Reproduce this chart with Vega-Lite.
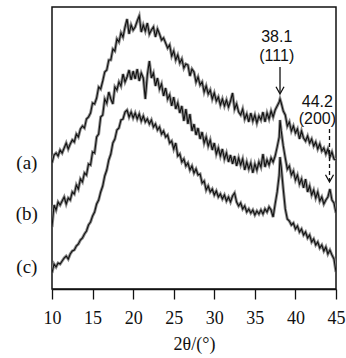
{
  "$schema": "https://vega.github.io/schema/vega-lite/v6.json",
  "width": 284,
  "height": 282,
  "autosize": {"type": "none"},
  "padding": {"left": 52, "top": 7, "right": 10, "bottom": 69},
  "background": "white",
  "config": {
    "font": "Liberation Serif",
    "view": {"stroke": "#111", "strokeWidth": 1.5},
    "axis": {"labelFont": "Liberation Serif", "titleFont": "Liberation Serif"}
  },
  "datasets": {
    "xrd": [
      {"t":10,"a":126,"b":62,"c":16},{"t":10.25,"a":134,"b":84,"c":25},{"t":10.5,"a":136,"b":79,"c":22},{"t":10.75,"a":133,"b":87,"c":26},
      {"t":11,"a":139,"b":84,"c":25},{"t":11.25,"a":136,"b":88,"c":28},{"t":11.5,"a":141,"b":92,"c":31},{"t":11.75,"a":146,"b":85,"c":33},
      {"t":12,"a":140,"b":91,"c":30},{"t":12.25,"a":145,"b":89,"c":35},{"t":12.5,"a":149,"b":97,"c":38},{"t":12.75,"a":147,"b":95,"c":39},
      {"t":13,"a":155,"b":104,"c":43},{"t":13.25,"a":152,"b":100,"c":45},{"t":13.5,"a":160,"b":110,"c":49},{"t":13.75,"a":163,"b":107,"c":51},
      {"t":14,"a":161,"b":116,"c":55},{"t":14.25,"a":170,"b":114,"c":58},{"t":14.5,"a":172,"b":125,"c":64},{"t":14.75,"a":176,"b":124,"c":67},
      {"t":15,"a":186,"b":137,"c":73},{"t":15.25,"a":185,"b":136,"c":77},{"t":15.5,"a":191,"b":152,"c":85},{"t":15.75,"a":202,"b":155,"c":89},
      {"t":16,"a":200,"b":172,"c":97},{"t":16.25,"a":208,"b":174,"c":103},{"t":16.5,"a":217,"b":190,"c":113},{"t":16.75,"a":219,"b":186,"c":119},
      {"t":17,"a":229,"b":197,"c":129},{"t":17.25,"a":229,"b":190,"c":135},{"t":17.5,"a":240,"b":185,"c":146},{"t":17.75,"a":238,"b":202,"c":150},
      {"t":18,"a":250,"b":199,"c":159},{"t":18.25,"a":247,"b":207,"c":161},{"t":18.5,"a":256,"b":203,"c":169},{"t":18.75,"a":252,"b":215,"c":170},
      {"t":19,"a":262,"b":207,"c":177},{"t":19.25,"a":270,"b":212,"c":179},{"t":19.5,"a":255,"b":219,"c":172},{"t":19.75,"a":264,"b":209,"c":177},
      {"t":20,"a":259,"b":218,"c":171},{"t":20.25,"a":262,"b":210,"c":176},{"t":20.5,"a":268,"b":220,"c":170},{"t":20.75,"a":273,"b":208,"c":175},
      {"t":21,"a":257,"b":216,"c":168},{"t":21.25,"a":264,"b":211,"c":173},{"t":21.5,"a":258,"b":190,"c":167},{"t":21.75,"a":266,"b":214,"c":170},
      {"t":22,"a":255,"b":228,"c":165},{"t":22.25,"a":259,"b":211,"c":169},{"t":22.5,"a":262,"b":216,"c":162},{"t":22.75,"a":252,"b":203,"c":165},
      {"t":23,"a":260,"b":211,"c":159},{"t":23.25,"a":255,"b":200,"c":162},{"t":23.5,"a":249,"b":205,"c":155},{"t":23.75,"a":251,"b":193,"c":158},
      {"t":24,"a":246,"b":201,"c":152},{"t":24.25,"a":241,"b":190,"c":154},{"t":24.5,"a":244,"b":194,"c":146},{"t":24.75,"a":233,"b":183,"c":148},
      {"t":25,"a":238,"b":192,"c":140},{"t":25.25,"a":229,"b":180,"c":146},{"t":25.5,"a":234,"b":186,"c":133},{"t":25.75,"a":226,"b":176,"c":135},
      {"t":26,"a":230,"b":183,"c":127},{"t":26.25,"a":221,"b":168,"c":130},{"t":26.5,"a":225,"b":180,"c":123},{"t":26.75,"a":224,"b":165,"c":126},
      {"t":27,"a":213,"b":175,"c":119},{"t":27.25,"a":220,"b":158,"c":123},{"t":27.5,"a":217,"b":165,"c":116},{"t":27.75,"a":207,"b":154,"c":120},
      {"t":28,"a":212,"b":161,"c":114},{"t":28.25,"a":204,"b":150,"c":115},{"t":28.5,"a":207,"b":157,"c":106},{"t":28.75,"a":197,"b":146,"c":108},
      {"t":29,"a":203,"b":152,"c":99},{"t":29.25,"a":195,"b":143,"c":103},{"t":29.5,"a":199,"b":149,"c":97},{"t":29.75,"a":190,"b":139,"c":100},
      {"t":30,"a":196,"b":146,"c":94},{"t":30.25,"a":188,"b":135,"c":98},{"t":30.5,"a":192,"b":141,"c":92},{"t":30.75,"a":184,"b":133,"c":95},
      {"t":31,"a":190,"b":140,"c":90},{"t":31.25,"a":183,"b":130,"c":94},{"t":31.5,"a":189,"b":136,"c":88},{"t":31.75,"a":182,"b":127,"c":92},
      {"t":32,"a":188,"b":134,"c":87},{"t":32.25,"a":196,"b":125,"c":93},{"t":32.5,"a":180,"b":133,"c":96},{"t":32.75,"a":185,"b":123,"c":87},
      {"t":33,"a":177,"b":131,"c":83},{"t":33.25,"a":174,"b":124,"c":86},{"t":33.5,"a":180,"b":130,"c":80},{"t":33.75,"a":170,"b":119,"c":83},
      {"t":34,"a":175,"b":127,"c":77},{"t":34.25,"a":167,"b":120,"c":80},{"t":34.5,"a":176,"b":126,"c":76},{"t":34.75,"a":168,"b":116,"c":79},
      {"t":35,"a":174,"b":125,"c":74},{"t":35.25,"a":166,"b":119,"c":78},{"t":35.5,"a":173,"b":127,"c":75},{"t":35.75,"a":169,"b":122,"c":79},
      {"t":36,"a":177,"b":135,"c":75},{"t":36.25,"a":167,"b":122,"c":80},{"t":36.5,"a":176,"b":129,"c":77},{"t":36.75,"a":170,"b":124,"c":82},
      {"t":37,"a":178,"b":131,"c":79},{"t":37.25,"a":172,"b":127,"c":72},{"t":37.5,"a":179,"b":133,"c":85},{"t":37.75,"a":183,"b":142,"c":97},
      {"t":38,"a":187,"b":152,"c":114},{"t":38.1,"a":190,"b":169,"c":132},{"t":38.25,"a":186,"b":158,"c":122},{"t":38.5,"a":178,"b":143,"c":100},{"t":38.75,"a":174,"b":131,"c":80},
      {"t":39,"a":163,"b":120,"c":70},{"t":39.25,"a":167,"b":123,"c":68},{"t":39.5,"a":158,"b":114,"c":64},{"t":39.75,"a":163,"b":118,"c":66},
      {"t":40,"a":156,"b":109,"c":60},{"t":40.25,"a":160,"b":114,"c":63},{"t":40.5,"a":150,"b":105,"c":57},{"t":40.75,"a":158,"b":110,"c":60},
      {"t":41,"a":151,"b":101,"c":54},{"t":41.25,"a":148,"b":110,"c":57},{"t":41.5,"a":153,"b":97,"c":51},{"t":41.75,"a":146,"b":103,"c":54},
      {"t":42,"a":150,"b":94,"c":47},{"t":42.25,"a":143,"b":99,"c":50},{"t":42.5,"a":147,"b":91,"c":44},{"t":42.75,"a":140,"b":97,"c":47},
      {"t":43,"a":145,"b":88,"c":41},{"t":43.25,"a":138,"b":92,"c":44},{"t":43.5,"a":141,"b":85,"c":38},{"t":43.75,"a":135,"b":89,"c":42},
      {"t":44,"a":140,"b":92,"c":35},{"t":44.25,"a":132,"b":100,"c":39},{"t":44.5,"a":137,"b":89,"c":34},{"t":44.75,"a":130,"b":86,"c":30},
      {"t":45,"a":129,"b":76,"c":17}
    ],
    "notes": [
      {"t":37.7,"y":252,"label":"38.1"},
      {"t":37.7,"y":233,"label":"(111)"},
      {"t":42.7,"y":187,"label":"44.2"},
      {"t":42.7,"y":170,"label":"(200)"}
    ],
    "series": [
      {"t":6.9,"y":126,"label":"(a)"},
      {"t":6.9,"y":75,"label":"(b)"},
      {"t":6.9,"y":22,"label":"(c)"}
    ],
    "solidArrow": [{"t":38.1,"y":222,"y2":196}],
    "dashArrow": [{"t":44.2,"y":160,"y2":108}],
    "heads": [{"t":38.1,"y":195},{"t":44.2,"y":107}]
  },
  "layer": [
    {
      "data": {"name": "xrd"},
      "transform": [{"fold": ["a", "b", "c"], "as": ["curve", "intensity"]}],
      "mark": {"type": "line", "color": "#8c8c8c", "strokeWidth": 3, "clip": true},
      "encoding": {
        "x": {
          "field": "t", "type": "quantitative",
          "scale": {"domain": [10, 45], "nice": false},
          "axis": {
            "title": "2θ/(°)",
            "values": [10, 12.5, 15, 17.5, 20, 22.5, 25, 27.5, 30, 32.5, 35, 37.5, 40, 42.5, 45],
            "labelExpr": "datum.value % 5 === 0 ? datum.label : ''",
            "grid": false,
            "domainColor": "#111", "domainWidth": 1.5,
            "tickColor": "#111", "tickWidth": 1.3,
            "tickSize": {"condition": {"test": "datum.value % 5 === 0", "value": 10}, "value": 7},
            "labelFont": "Liberation Serif", "labelFontSize": 18, "labelColor": "#111",
            "labelPadding": 10, "labelFlush": false, "labelOverlap": false,
            "titleFont": "Liberation Serif", "titleFontSize": 18, "titleFontWeight": "normal", "titleColor": "#111",
            "titlePadding": 8
          }
        },
        "y": {
          "field": "intensity", "type": "quantitative",
          "scale": {"domain": [0, 282], "nice": false},
          "axis": null
        },
        "detail": {"field": "curve"}
      }
    },
    {
      "data": {"name": "xrd"},
      "transform": [{"fold": ["a", "b", "c"], "as": ["curve", "intensity"]}],
      "mark": {"type": "line", "color": "#111", "strokeWidth": 1.1, "clip": true},
      "encoding": {
        "x": {"field": "t", "type": "quantitative"},
        "y": {"field": "intensity", "type": "quantitative"},
        "detail": {"field": "curve"}
      }
    },
    {
      "data": {"name": "notes"},
      "mark": {"type": "text", "font": "Liberation Sans", "fontSize": 16, "color": "#111", "align": "center", "baseline": "middle"},
      "encoding": {
        "x": {"field": "t", "type": "quantitative"},
        "y": {"field": "y", "type": "quantitative"},
        "text": {"field": "label"}
      }
    },
    {
      "data": {"name": "series"},
      "mark": {"type": "text", "font": "Liberation Serif", "fontSize": 19, "color": "#111", "align": "center", "baseline": "middle", "clip": false},
      "encoding": {
        "x": {"field": "t", "type": "quantitative"},
        "y": {"field": "y", "type": "quantitative"},
        "text": {"field": "label"}
      }
    },
    {
      "data": {"name": "solidArrow"},
      "mark": {"type": "rule", "color": "#111", "strokeWidth": 1.3},
      "encoding": {
        "x": {"field": "t", "type": "quantitative"},
        "y": {"field": "y", "type": "quantitative"},
        "y2": {"field": "y2"}
      }
    },
    {
      "data": {"name": "dashArrow"},
      "mark": {"type": "rule", "color": "#111", "strokeWidth": 1.3, "strokeDash": [4, 3]},
      "encoding": {
        "x": {"field": "t", "type": "quantitative"},
        "y": {"field": "y", "type": "quantitative"},
        "y2": {"field": "y2"}
      }
    },
    {
      "data": {"name": "heads"},
      "mark": {"type": "point", "shape": "M-0.5,-0.9L0,0L0.5,-0.9", "size": 256, "filled": false, "stroke": "#111", "strokeWidth": 1.3, "opacity": 1},
      "encoding": {
        "x": {"field": "t", "type": "quantitative"},
        "y": {"field": "y", "type": "quantitative"}
      }
    }
  ]
}
